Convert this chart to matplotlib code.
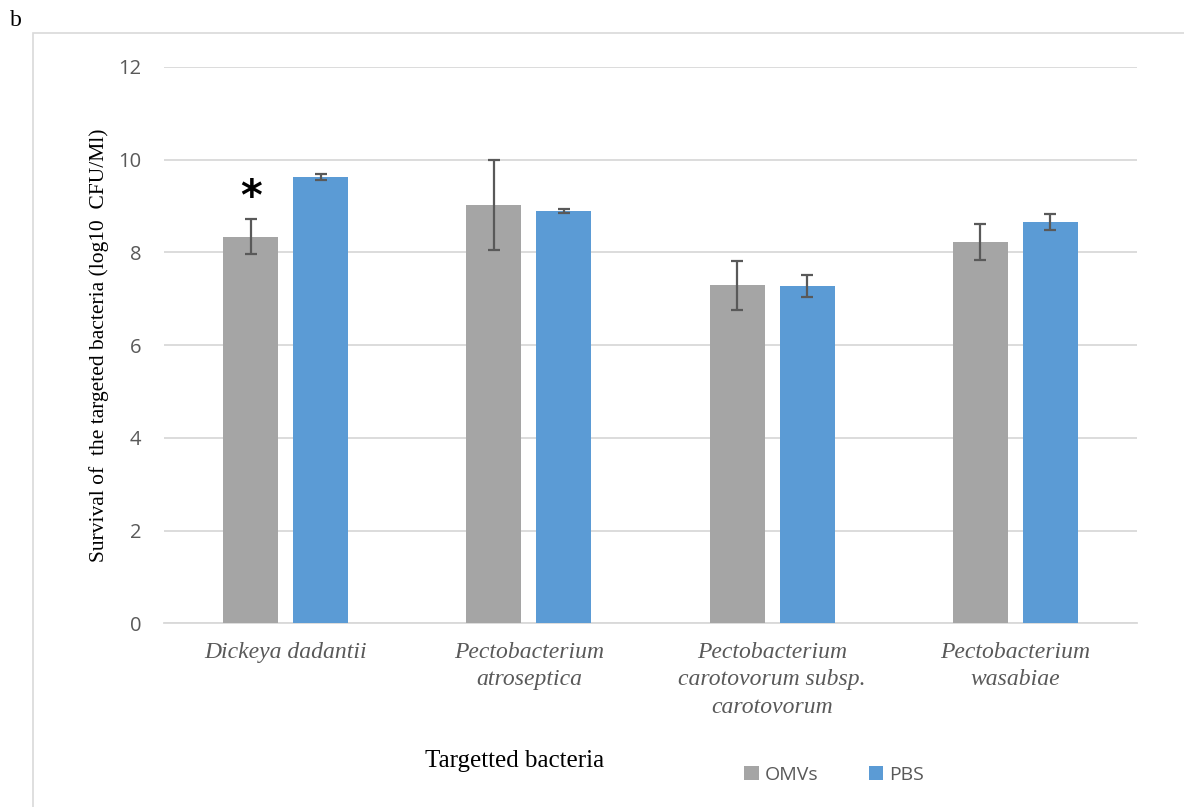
import numpy as np
import matplotlib.pyplot as plt
from matplotlib.patches import Rectangle

# values
species = ['Dickeya dadantii',
           'Pectobacterium\natroseptica',
           'Pectobacterium\ncarotovorum subsp.\ncarotovorum',
           'Pectobacterium\nwasabiae']
omvs = [8.34, 9.02, 7.29, 8.22]
omvs_err = [0.385, 0.96, 0.53, 0.385]
pbs = [9.62, 8.89, 7.27, 8.65]
pbs_err = [0.06, 0.05, 0.235, 0.17]

fig = plt.figure(figsize=(11.84, 8.07), dpi=100)

# light frame around the chart area (runs off the page like the original)
fig.patches.append(Rectangle((33 / 1184, -0.1), 1.0, 1 - 33 / 807 + 0.1,
                             transform=fig.transFigure, fill=False,
                             edgecolor='#d9d9d9', linewidth=1.2))
fig.text(10 / 1184, 1 - 20 / 807, 'b', family='Liberation Serif', fontsize=17,
         va='center', ha='left')

ax = fig.add_axes([0.1385, 0.2274, 0.9603 - 0.1385, 0.9173 - 0.2274])
x = np.arange(len(species))
w = 0.226
off = 0.144
err_kw = dict(ecolor='#595959', elinewidth=1.6, capsize=4.5, capthick=1.6)
ax.bar(x - off, omvs, w, yerr=omvs_err, color='#a5a5a5', label='OMVs',
       error_kw=err_kw, zorder=3)
ax.bar(x + off, pbs, w, yerr=pbs_err, color='#5b9bd5', label='PBS',
       error_kw=err_kw, zorder=3)

ax.text(x[0] - off, omvs[0] + omvs_err[0] + 0.45, '*', ha='center', va='center',
        fontsize=30, fontweight='bold', family='DejaVu Sans')

ax.set_xlim(-0.5, len(species) - 0.5)
ax.set_ylim(0, 12)
ax.set_yticks(range(0, 13, 2))
ax.yaxis.grid(True, color='#d9d9d9', linewidth=1.3, zorder=0)
ax.set_axisbelow(True)
for s in ['top', 'right', 'left']:
    ax.spines[s].set_visible(False)
ax.spines['bottom'].set_color('#d9d9d9')
ax.spines['bottom'].set_linewidth(1.3)
ax.tick_params(length=0)
ax.tick_params(axis='y', labelsize=14.5, labelcolor='#595959', pad=16.5)
for lab in ax.get_yticklabels():
    lab.set_family('Open Sans')

ax.set_xticks(x)
ax.set_xticklabels(species, family='Liberation Serif', style='italic',
                   fontsize=17, color='#595959', linespacing=1.42)
ax.tick_params(axis='x', pad=13)

ax.set_ylabel('Survival of  the targeted bacteria (log10  CFU/Ml)',
              family='Liberation Serif', fontsize=15.5)
ax.yaxis.set_label_coords(-0.057, 0.5)
fig.text(515 / 1184, 1 - 761 / 807, 'Targetted bacteria', family='Liberation Serif',
         fontsize=18, ha='center', va='center')

leg = fig.legend(loc='center', bbox_to_anchor=(834 / 1184, 1 - 775 / 807), ncol=2,
                 frameon=False, prop={'family': 'Open Sans', 'size': 14},
                 handlelength=0.75, handleheight=0.75, handletextpad=0.3,
                 columnspacing=2.6)
for t in leg.get_texts():
    t.set_color('#595959')

fig.savefig('out.png', dpi=100)
